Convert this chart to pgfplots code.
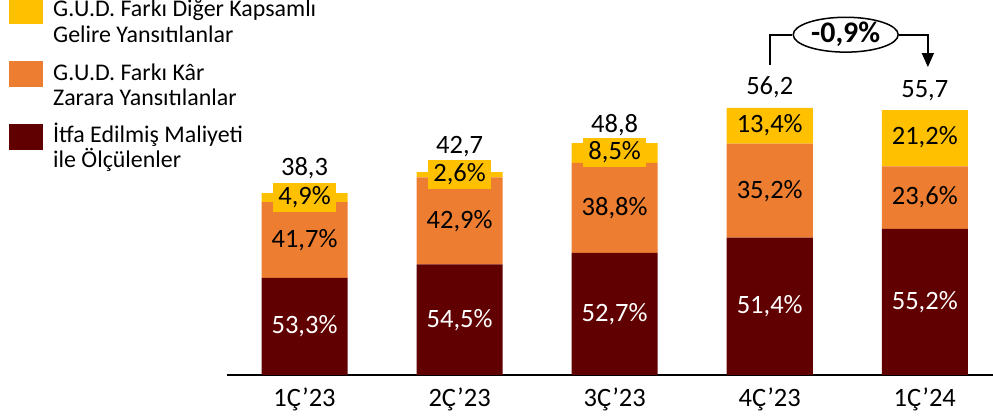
\documentclass[border=0pt]{standalone}
\usepackage{fontspec}
\setmainfont{Carlito}
\usepackage{pgfplots}
\usepackage{pgfplotstable}
\pgfplotsset{compat=1.18}
\usetikzlibrary{arrows.meta, shapes.geometric}

\definecolor{cyel}{HTML}{FFC000}
\definecolor{corg}{HTML}{ED7D31}
\definecolor{cdrk}{HTML}{600000}

% segment heights = total * share
\pgfplotstableread{
x dark  orange yellow pdark porange pyellow total tot  lift
0 20.41 15.97  1.88   53,3  41,7    4,9     38,3  38.3 17
1 23.27 18.32  1.11   54,5  42,9    2,6     42,7  42.7 19
2 25.72 18.93  4.15   52,7  38,8    8,5     48,8  48.8 11
3 28.89 19.78  7.53   51,4  35,2    13,4    56,2  56.2 13
4 30.75 13.15  11.81  55,2  23,6    21,2    55,7  55.7 13
}\datatable

\pgfplotsset{
  frame/.style={
    at={(227bp,42bp)}, anchor=south west,
    width=766bp, height=375bp, scale only axis,
    xmin=-0.5, xmax=4.44, ymin=0, ymax=78.9,
    clip=false},
  lbl/.style={draw=none, mark=none, nodes near coords, point meta=explicit symbolic},
}

\begin{document}
\begin{tikzpicture}
\path[use as bounding box] (0,0) rectangle (993bp,417bp);

% legend
\fill[cyel] (9bp,393bp) rectangle (43bp,419bp);
\fill[corg] (9bp,330bp) rectangle (43bp,356bp);
\fill[cdrk] (9bp,267bp) rectangle (43bp,293bp);
\begin{scope}[every node/.style={anchor=base west, inner sep=0pt, font=\fontsize{24}{26}\selectfont}]
  \node at (53bp,400bp) {G.U.D. Farkı Diğer Kapsamlı};
  \node at (53bp,374bp) {Gelire Yansıtılanlar};
  \node at (53bp,336bp) {G.U.D. Farkı Kâr};
  \node at (53bp,311bp) {Zarara Yansıtılanlar};
  \node at (53bp,274bp) {İtfa Edilmiş Maliyeti};
  \node at (53bp,249bp) {ile Ölçülenler};
\end{scope}

% bars
\begin{axis}[frame,
  axis x line*=bottom, axis y line=none,
  x axis line style={line width=1.5bp},
  xtick={0,1,2,3,4},
  xticklabels={1Ç’23,2Ç’23,3Ç’23,4Ç’23,1Ç’24},
  xtick style={draw=none},
  ytick=\empty,
  xticklabel style={anchor=base, yshift=-32bp, font=\fontsize{26.6}{30}\selectfont},
  ybar stacked, bar width=0.555,
]
\addplot[fill=cdrk, draw=none] table[x=x, y=dark] {\datatable};
\addplot[fill=corg, draw=none] table[x=x, y=orange] {\datatable};
\addplot[fill=cyel, draw=none] table[x=x, y=yellow] {\datatable};

\coordinate (ec) at (axis cs:3.49,71.6);
\coordinate (p4) at (axis cs:3,65.3);
\coordinate (p5) at (axis cs:4.02,64.8);
\end{axis}

% labels, placed at segment centres
\begin{axis}[frame, hide axis]
\addplot[lbl, nodes near coords={\pgfplotspointmeta\%},
  every node near coord/.style={anchor=center, text=white, font=\fontsize{26.6}{30}\selectfont}]
  table[x=x, y expr=\thisrow{dark}/2, meta=pdark] {\datatable};
\addplot[lbl, nodes near coords={\pgfplotspointmeta\%},
  every node near coord/.style={anchor=center, text=black, font=\fontsize{26.6}{30}\selectfont}]
  table[x=x, y expr=\thisrow{dark}+\thisrow{orange}/2, meta=porange] {\datatable};
\addplot[lbl, nodes near coords={\pgfplotspointmeta\%},
  every node near coord/.style={anchor=center, text=black, fill=cyel,
    inner xsep=5bp, inner ysep=4bp, text height=17bp, text depth=4bp,
    font=\fontsize{26.6}{30}\selectfont}]
  table[x=x, y expr=\thisrow{dark}+\thisrow{orange}+\thisrow{yellow}/2, meta=pyellow] {\datatable};
\addplot[lbl, nodes near coords={\pgfplotspointmeta},
  every node near coord/.style={anchor=base, text=black, inner sep=0pt,
    font=\fontsize{26.6}{30}\selectfont}]
  table[x=x, y expr=\thisrow{tot}+\thisrow{lift}/4.753, meta=total] {\datatable};
\end{axis}

% change marker
\node[draw, ellipse, line width=1.5bp, minimum width=105bp, minimum height=34bp,
  inner sep=0pt, font=\fontsize{30}{32}\selectfont\bfseries] (chg) at (ec) {-0,9\%};
\draw[line width=1.8bp] (p4) |- (chg.west);
\draw[line width=1.8bp, -{Triangle[length=14bp, width=12bp]}] (chg.east) -| (p5);
\end{tikzpicture}
\end{document}
